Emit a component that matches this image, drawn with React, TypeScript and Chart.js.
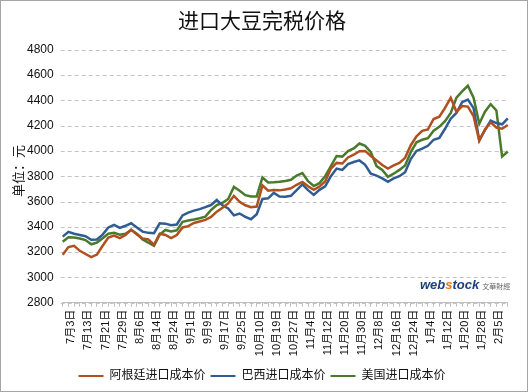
import React, { useEffect, useRef } from "react";
import { Chart, registerables } from "chart.js";

Chart.register(...registerables);

const FONT = '"Liberation Sans", "Noto Sans CJK SC", sans-serif';

const chartTitle = "进口大豆完税价格";
const yAxisTitle = "单位：元";
const seriesNames = ["阿根廷进口成本价", "巴西进口成本价", "美国进口成本价"];
const seriesColors = ["#B0501E", "#2F5D93", "#4B7A2C"];

const tickLabels = [
  "7月3日", "7月13日", "7月21日", "7月29日", "8月6日", "8月14日", "8月24日",
  "9月1日", "9月9日", "9月17日", "9月25日", "10月10日", "10月19日", "10月27日",
  "11月4日", "11月12日", "11月20日", "11月30日", "12月8日", "12月16日", "12月24日",
  "1月4日", "1月12日", "1月20日", "1月28日", "2月5日",
];
const labelStart = 1;
const labelEvery = 3;

const argentina = [
  3180, 3240, 3250, 3210, 3185, 3160, 3180, 3250, 3315, 3330,
  3310, 3335, 3378, 3340, 3308, 3300, 3258, 3345, 3335, 3310,
  3335, 3395, 3405, 3430, 3442, 3455, 3478, 3520, 3550, 3585,
  3645, 3598, 3570, 3555, 3560, 3728, 3685, 3690, 3688, 3695,
  3704, 3732, 3755, 3720, 3692, 3718, 3758, 3860, 3905, 3900,
  3948, 3970, 3998, 4000, 3960, 3925, 3888, 3860, 3885, 3905,
  3945, 4045, 4115, 4158, 4170, 4252, 4270, 4340, 4420, 4310,
  4355, 4350, 4275, 4080, 4170, 4225, 4185, 4175, 4205,
];

const brazil = [
  3322, 3360, 3345, 3335, 3325, 3298, 3300, 3338, 3395, 3415,
  3392, 3408, 3428, 3395, 3362, 3352, 3350, 3428, 3425, 3412,
  3418, 3490, 3512, 3528, 3540, 3556, 3572, 3612, 3570, 3545,
  3490, 3505, 3478, 3460, 3500, 3620, 3625, 3668, 3640, 3638,
  3645, 3690, 3735, 3690, 3652, 3692, 3720, 3800, 3860, 3850,
  3895, 3912, 3925, 3890, 3820, 3805, 3783, 3755, 3783, 3800,
  3832, 3935, 4000, 4018, 4040, 4088, 4102, 4175, 4255, 4300,
  4385, 4405, 4338, 4085, 4165, 4240, 4220, 4210, 4257,
];

const usa = [
  3282, 3318, 3315, 3308, 3295, 3262, 3275, 3310, 3345, 3352,
  3338, 3345, 3375, 3345, 3300, 3275, 3250, 3338, 3375, 3363,
  3372, 3440, 3450, 3458, 3468, 3480, 3533, 3572, 3590, 3620,
  3715, 3685, 3650, 3640, 3640, 3790, 3750, 3752, 3756, 3762,
  3772, 3805, 3825, 3760, 3722, 3745, 3800, 3880, 3960, 3955,
  3998, 4020, 4058, 4040, 3990, 3880, 3850, 3795, 3820, 3850,
  3885, 3990, 4068, 4088, 4100, 4160, 4190, 4235, 4300, 4420,
  4470, 4515, 4420, 4215, 4310, 4370, 4320, 3955, 3995,
];

const yMin = 2800;
const yMax = 4800;
const yStep = 200;

const categories = argentina.map((_, i) =>
  i >= labelStart && (i - labelStart) % labelEvery === 0
    ? tickLabels[(i - labelStart) / labelEvery] ?? ""
    : ""
);

const dashedGrid = {
  id: "dashedGrid",
  beforeDatasetsDraw(chart: any) {
    const { ctx, chartArea, scales } = chart;
    const y = scales.y;
    ctx.save();
    ctx.strokeStyle = "#c4c4c4";
    ctx.lineWidth = 1;
    ctx.setLineDash([4, 3]);
    y.ticks.forEach((t: any) => {
      const py = Math.round(y.getPixelForValue(t.value)) + 0.5;
      ctx.beginPath();
      ctx.moveTo(chartArea.left - 2, py);
      ctx.lineTo(chartArea.right, py);
      ctx.stroke();
    });
    ctx.restore();
  },
};

const yTitlePlugin = {
  id: "yTitlePlugin",
  afterDraw(chart: any) {
    const { ctx } = chart;
    ctx.save();
    ctx.translate(19, 171);
    ctx.rotate(-Math.PI / 2);
    ctx.font = `13px ${FONT}`;
    ctx.fillStyle = "#111";
    ctx.textAlign = "center";
    ctx.textBaseline = "middle";
    ctx.fillText(yAxisTitle, 0, 0);
    ctx.restore();
  },
};

export default function App() {
  const ref = useRef<HTMLCanvasElement>(null);

  useEffect(() => {
    document.body.style.margin = "0";
    Chart.defaults.font.family = FONT;
    const canvas = ref.current;
    if (!canvas) return;
    const seriesData = [argentina, brazil, usa];
    const chart = new Chart(canvas, {
      type: "line",
      data: {
        labels: categories,
        datasets: seriesData.map((d, k) => ({
          label: seriesNames[k],
          data: d,
          borderColor: seriesColors[k],
          backgroundColor: seriesColors[k],
          borderWidth: 2.5,
          pointRadius: 0,
          tension: 0,
        })),
      },
      plugins: [dashedGrid, yTitlePlugin],
      options: {
        animation: false,
        responsive: false,
        devicePixelRatio: 1,
        layout: { padding: { left: 0, right: 4, top: 0, bottom: 0 } },
        plugins: {
          tooltip: { enabled: false },
          title: {
            display: true,
            text: chartTitle,
            color: "#111",
            font: { size: 21, weight: "normal", family: FONT },
            padding: { top: 10, bottom: 14.5 },
          },
          legend: {
            position: "bottom",
            labels: {
              boxWidth: 25,
              boxHeight: 2,
              padding: 5,
              color: "#111",
              font: { size: 12, family: FONT },
              generateLabels: (c: any) =>
                Chart.defaults.plugins.legend.labels
                  .generateLabels(c)
                  .map((l: any) => ({ ...l, lineWidth: 0, fillStyle: l.strokeStyle })),
            },
          },
        },
        scales: {
          x: {
            grid: {
              display: true,
              drawOnChartArea: false,
              drawTicks: true,
              tickLength: 4,
              tickColor: "#bfbfbf",
              color: "#bfbfbf",
            },
            border: { display: true, color: "#bfbfbf", width: 1 },
            ticks: {
              autoSkip: false,
              minRotation: 90,
              maxRotation: 90,
              padding: 3,
              labelOffset: 2.85,
              color: "#111",
              font: { size: 11, family: FONT },
              callback: (_v: any, i: number) => categories[i],
            },
            afterFit: (s: any) => {
              s.height = 62.3;
            },
          },
          y: {
            min: yMin,
            max: yMax,
            ticks: {
              stepSize: yStep,
              padding: 9,
              color: "#111",
              font: { size: 12, family: FONT },
              callback: (v: any) => String(v),
            },
            grid: { display: false, drawTicks: false },
            border: { display: false },
            afterFit: (s: any) => {
              s.width = 62.7;
            },
          },
          y2: {
            position: "right",
            grid: { display: false },
            border: { display: false },
            ticks: { display: false },
            afterFit: (s: any) => {
              s.width = 16.2;
            },
          },
        },
      } as any,
    });
    return () => chart.destroy();
  }, []);

  return (
    <div style={{ position: "relative", width: 528, height: 392, background: "#fff" }}>
      <canvas ref={ref} width={528} height={392} style={{ display: "block", width: 528, height: 392 }} />
      <div
        style={{
          position: "absolute",
          left: 420,
          top: 276,
          whiteSpace: "nowrap",
          pointerEvents: "none",
          lineHeight: "16px",
        }}
      >
        <span
          style={{
            fontFamily: '"Liberation Sans", sans-serif',
            fontWeight: "bold",
            fontStyle: "italic",
            fontSize: 13,
            color: "#1c3f7c",
          }}
        >
          web<span style={{ color: "#e07b20" }}>s</span>tock
        </span>
        <span
          style={{
            fontFamily: '"Noto Sans CJK TC", sans-serif',
            fontSize: 7,
            color: "#666",
            marginLeft: 3,
          }}
        >
          文華財經
        </span>
      </div>
      <div
        style={{
          position: "absolute",
          left: 0,
          top: 0,
          width: 528,
          height: 392,
          boxSizing: "border-box",
          border: "1px solid #a6a6a6",
          pointerEvents: "none",
        }}
      />
    </div>
  );
}
